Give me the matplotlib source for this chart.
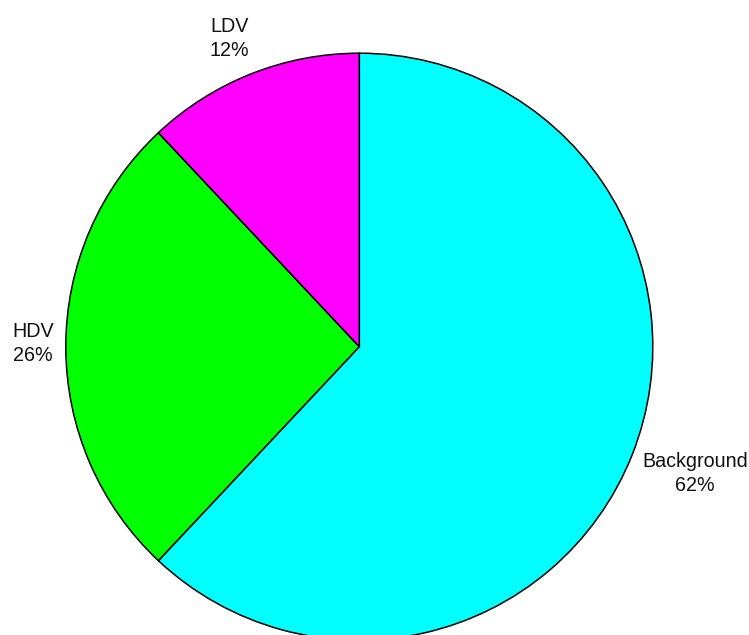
import numpy as np
import matplotlib
matplotlib.use("Agg")
import matplotlib.pyplot as plt

categories = ["Background", "HDV", "LDV"]
shares = [62, 26, 12]
colors = ["#00FFFF", "#00FF00", "#FF00FF"]

W, H = 749, 635
fig = plt.figure(figsize=(W / 100, H / 100), dpi=100)
ax = fig.add_axes([0, 0, 1, 1])

cx, cy, r = 359.3, H - 346.7, 293.5
wedges, _ = ax.pie(shares, colors=colors, startangle=90, counterclock=False,
                   center=(cx, cy), radius=r, frame=True,
                   wedgeprops=dict(edgecolor="black", linewidth=1.1))
ax.set_xlim(0, W)
ax.set_ylim(0, H)
ax.set_aspect("equal")
ax.axis("off")

# label block centres relative to pie centre (in units of radius) and alignment
label_off = [(1.144, -0.432), (-1.112, 0.011), (-0.446, 1.050)]
label_ha = ["center", "center", "left"]
for cat, s, (dx, dy), ha in zip(categories, shares, label_off, label_ha):
    x = cx + dx * r
    y = cy + dy * r
    if ha == "left":
        x -= 18.5
    ax.text(x, y, f"{cat}\n{s}%", ha=ha, va="center", multialignment=ha,
            fontsize=14.2, family="Liberation Sans", linespacing=1.38,
            color="#111111")

fig.savefig("out.png", dpi=100)
